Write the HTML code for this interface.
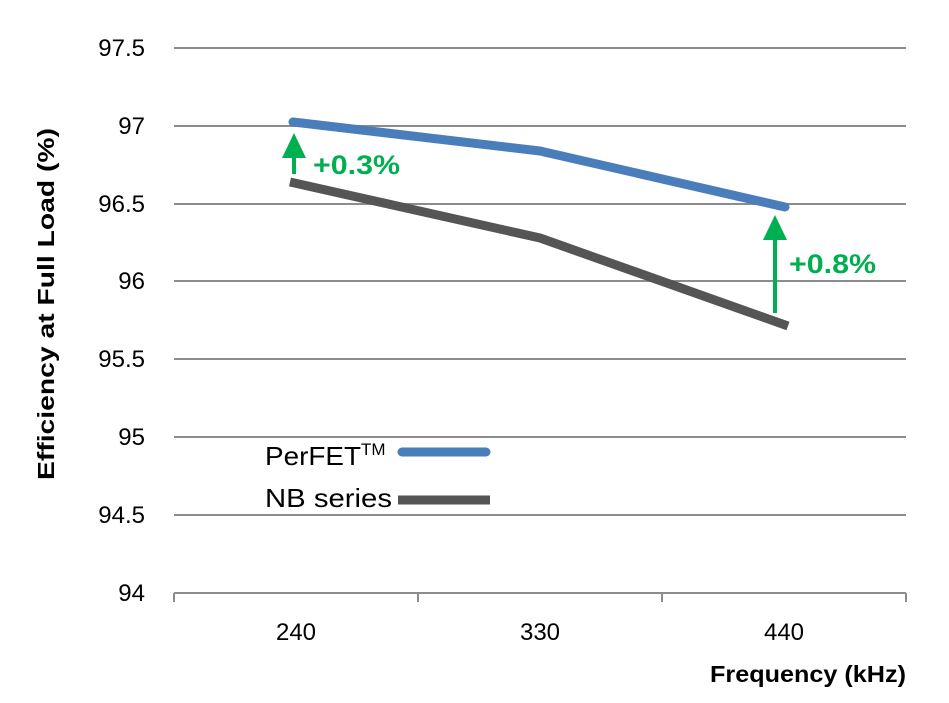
<!DOCTYPE html>
<html><head><style>body{margin:0;background:#fff}</style></head><body>
<svg width="949" height="698" xmlns="http://www.w3.org/2000/svg" font-family="Liberation Sans, sans-serif">
<g stroke="#8c8c8c" stroke-width="2">
<line x1="174" y1="48" x2="906" y2="48"/><line x1="174" y1="126" x2="906" y2="126"/>
<line x1="174" y1="204" x2="906" y2="204"/><line x1="174" y1="281" x2="906" y2="281"/>
<line x1="174" y1="359" x2="906" y2="359"/><line x1="174" y1="437" x2="906" y2="437"/>
<line x1="174" y1="515" x2="906" y2="515"/><line x1="174" y1="593" x2="906" y2="593"/>
<line x1="174" y1="593" x2="174" y2="602"/><line x1="418" y1="593" x2="418" y2="602"/>
<line x1="662" y1="593" x2="662" y2="602"/><line x1="906" y1="593" x2="906" y2="602"/>
</g>
<g font-size="24" fill="#000" text-anchor="end">
<text x="145" y="56">97.5</text><text x="145" y="134">97</text><text x="145" y="212">96.5</text>
<text x="145" y="289">96</text><text x="145" y="367">95.5</text><text x="145" y="445">95</text>
<text x="145" y="523">94.5</text><text x="145" y="601">94</text>
</g>
<g font-size="24" text-anchor="middle"><text x="296" y="640">240</text><text x="540" y="640">330</text><text x="784" y="640">440</text></g>
<text x="710" y="682" font-size="23" font-weight="bold" textLength="196" lengthAdjust="spacingAndGlyphs">Frequency (kHz)</text>
<text transform="translate(54,480) rotate(-90)" font-size="23" font-weight="bold" textLength="352" lengthAdjust="spacingAndGlyphs">Efficiency at Full Load (%)</text>
<polyline points="293,122 540,151 785,207" fill="none" stroke="#4a7ebb" stroke-width="9" stroke-linecap="round" stroke-linejoin="round"/>
<polyline points="290,182 540,238 788,326" fill="none" stroke="#555" stroke-width="9"/>
<g fill="#00b050" stroke="#00b050">
<line x1="294" y1="156" x2="294" y2="174" stroke-width="4"/><polygon points="294,133 282,158 306,158" stroke="none"/>
<line x1="775" y1="238" x2="775" y2="313" stroke-width="4"/><polygon points="775,215 763,240 787,240" stroke="none"/>
</g>
<g fill="#00b050" font-size="27" font-weight="bold"><text x="313" y="174" textLength="87" lengthAdjust="spacingAndGlyphs">+0.3%</text><text x="789" y="273" textLength="87" lengthAdjust="spacingAndGlyphs">+0.8%</text></g>
<text x="265" y="465" font-size="26"><tspan textLength="96" lengthAdjust="spacingAndGlyphs">PerFET</tspan><tspan font-size="17" dy="-10">TM</tspan></text>
<line x1="402" y1="452" x2="486" y2="452" stroke="#4a7ebb" stroke-width="9" stroke-linecap="round"/>
<text x="265" y="507" font-size="26" textLength="127" lengthAdjust="spacingAndGlyphs">NB series</text>
<line x1="398" y1="500" x2="490" y2="500" stroke="#555" stroke-width="9"/>
</svg>
</body></html>
